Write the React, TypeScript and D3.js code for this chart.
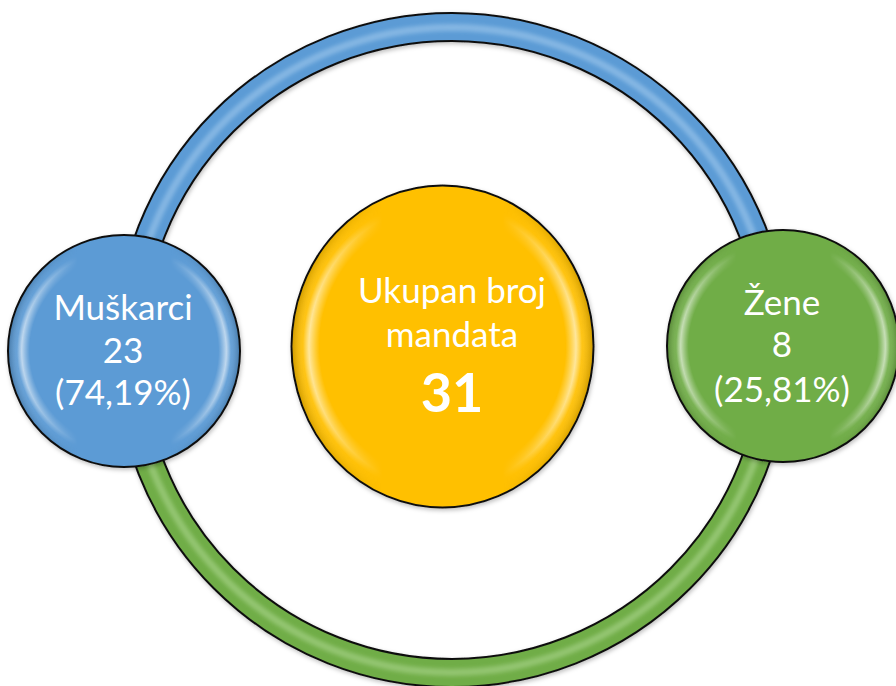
import React from "react";
import * as d3 from "d3";

// ---- data ----
const categories = ["Muškarci", "Žene"];
const values = [23, 8];
const percentLabels = ["(74,19%)", "(25,81%)"];
const totalLines = ["Ukupan broj", "mandata"];
const seriesColors = ["#5B9BD5", "#70AD47"];
const highlightColors = ["#D6ECFF", "#D9F5C4"];
const totalColor = "#FFC000";

const W = 896;
const H = 686;

export default function App() {
  const total = d3.sum(values);

  // ring geometry
  const ringCx = 452;
  const ringCy = 350;
  const rIn = 309;
  const rOut = 337;
  const halves = [
    { start: -Math.PI / 2, end: Math.PI / 2 },
    { start: Math.PI / 2, end: (3 * Math.PI) / 2 },
  ];
  const ringArc = d3.arc<any>().innerRadius(rIn).outerRadius(rOut);
  const midArc = d3.arc<any>().innerRadius((rIn + rOut) / 2 - 4).outerRadius((rIn + rOut) / 2 + 3);

  // bubble layout
  const bubbles = [
    { cx: 124, cy: 351, r: 116, tx: 123, base: [320, 363, 405] },
    { cx: 783, cy: 346, r: 116, tx: 782, base: [315, 357, 402] },
  ];
  const center = { cx: 442.5, cy: 346.5, rx: 151, ry: 161, tx: 452, base: [303, 347, 412] };

  const fontFamily = "Lato, 'Open Sans', 'DejaVu Sans', sans-serif";

  return (
    <svg
      width={W}
      height={H}
      viewBox={`0 0 ${W} ${H}`}
      style={{ position: "absolute", left: 0, top: 0, background: "#fff" }}
    >
      <defs>
        <radialGradient id="bevel" cx="50%" cy="50%" r="50%">
          <stop offset="0%" stopColor="#fff" stopOpacity={0} />
          <stop offset="82%" stopColor="#fff" stopOpacity={0} />
          <stop offset="89%" stopColor="#fff" stopOpacity={0.75} />
          <stop offset="93%" stopColor="#fff" stopOpacity={0.1} />
          <stop offset="100%" stopColor="#000" stopOpacity={0.18} />
        </radialGradient>
        <linearGradient id="sideMaskGrad" x1="0" y1="0" x2="1" y2="0">
          <stop offset="0%" stopColor="#fff" />
          <stop offset="30%" stopColor="#000" />
          <stop offset="70%" stopColor="#000" />
          <stop offset="100%" stopColor="#fff" />
        </linearGradient>
        <mask id="sideMask" maskContentUnits="objectBoundingBox">
          <rect x={0} y={0} width={1} height={1} fill="url(#sideMaskGrad)" />
        </mask>
        <filter id="soft" x="-10%" y="-10%" width="120%" height="120%">
          <feGaussianBlur stdDeviation="2" />
        </filter>
        <filter id="shadow" x="-10%" y="-10%" width="120%" height="120%">
          <feDropShadow dx="1" dy="2" stdDeviation="2" floodColor="#000" floodOpacity="0.25" />
        </filter>
      </defs>

      {/* ring */}
      <g transform={`translate(${ringCx},${ringCy})`} filter="url(#shadow)">
        {halves.map((h, i) => (
          <g key={`ring-${i}`}>
            <path
              d={ringArc({ startAngle: h.start, endAngle: h.end }) as string}
              fill={seriesColors[i]}
              stroke="#111"
              strokeWidth={2}
            />
            <path
              d={midArc({ startAngle: h.start + 0.05, endAngle: h.end - 0.05 }) as string}
              fill={highlightColors[i]}
              opacity={0.35}
              filter="url(#soft)"
            />
          </g>
        ))}
      </g>

      {/* center total */}
      <g filter="url(#shadow)">
        <ellipse cx={center.cx} cy={center.cy} rx={center.rx} ry={center.ry} fill={totalColor} stroke="#111" strokeWidth={2} />
      </g>
      <g mask="url(#sideMask)">
        <ellipse cx={center.cx} cy={center.cy} rx={center.rx - 1} ry={center.ry - 1} fill="url(#bevel)" />
      </g>
      <g fill="#fff" fontFamily={fontFamily} textAnchor="middle">
        {totalLines.map((t, i) => (
          <text key={t} x={center.tx} y={center.base[i]} fontSize={35}>
            {t}
          </text>
        ))}
        <text x={center.tx} y={center.base[2]} fontSize={54} fontWeight={700}>
          {total}
        </text>
      </g>

      {/* category bubbles */}
      {categories.map((c, i) => {
        const b = bubbles[i];
        return (
          <g key={c}>
            <g filter="url(#shadow)">
              <circle cx={b.cx} cy={b.cy} r={b.r} fill={seriesColors[i]} stroke="#111" strokeWidth={2} />
            </g>
            <g mask="url(#sideMask)">
              <circle cx={b.cx} cy={b.cy} r={b.r - 1} fill="url(#bevel)" />
            </g>
            <g fill="#fff" fontFamily={fontFamily} textAnchor="middle" fontSize={35}>
              <text x={b.tx} y={b.base[0]}>{c}</text>
              <text x={b.tx} y={b.base[1]}>{values[i]}</text>
              <text x={b.tx} y={b.base[2]}>{percentLabels[i]}</text>
            </g>
          </g>
        );
      })}
    </svg>
  );
}
